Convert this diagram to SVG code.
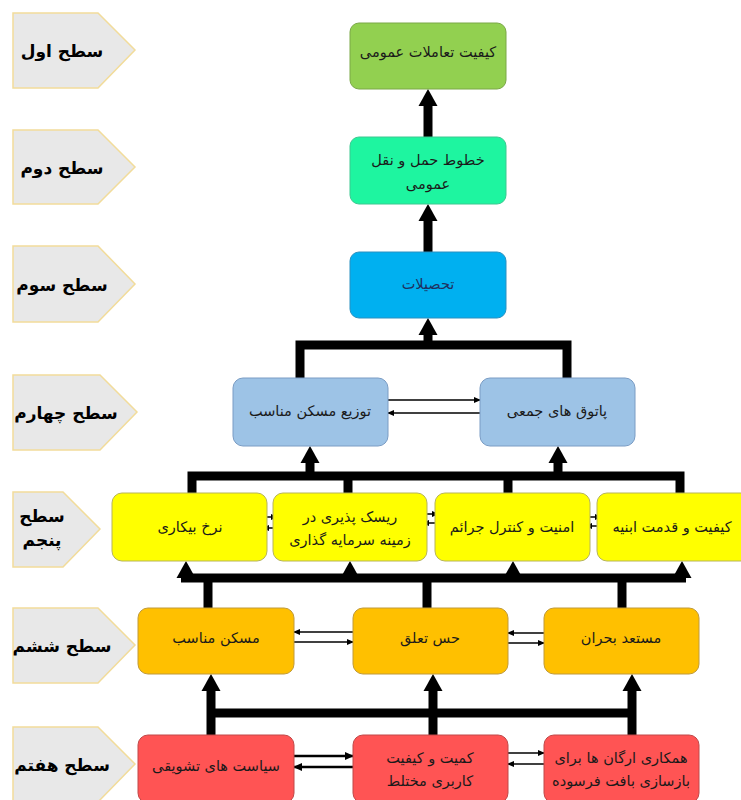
<svg xmlns="http://www.w3.org/2000/svg" xmlns:xlink="http://www.w3.org/1999/xlink" width="741" height="800" viewBox="0 0 741 800">
<style>
.lab{fill:#e8e8e8;stroke:#f2dc9a;stroke-width:1.5}
.labt{font-family:"DejaVu Sans",sans-serif;font-weight:bold;font-size:17px;fill:#000;text-anchor:middle}
.nt{font-family:"DejaVu Sans",sans-serif;font-size:14.5px;fill:#1a1a1a;text-anchor:middle}
.g1{fill:#92d050;stroke:#7aa846}
.g2{fill:#1ef5a0;stroke:#3cc890}
.g3{fill:#00b0f0;stroke:#2a90c0}
.g4{fill:#9dc3e6;stroke:#7a9cc4}
.g5{fill:#ffff00;stroke:#b7b45a}
.g6{fill:#ffc000;stroke:#c09a3a}
.g7{fill:#ff5454;stroke:#c04848}
.thick{stroke:#000;stroke-width:9;fill:none}
.thin{stroke:#000;stroke-width:1.5;fill:none}
.mid{stroke:#000;stroke-width:2.5;fill:none}
</style>
<defs>
<path id="ah" d="M0,0 L9.5,17 L-9.5,17 Z" fill="#000"/>
<marker id="sa" markerUnits="userSpaceOnUse" markerWidth="8" markerHeight="8" refX="6" refY="3" orient="auto"><path d="M0,0 L7,3 L0,6 Z" fill="#000"/></marker>
<marker id="ma" markerUnits="userSpaceOnUse" markerWidth="10" markerHeight="10" refX="8" refY="4" orient="auto"><path d="M0,0 L9,4 L0,8 Z" fill="#000"/></marker>
</defs>

<g id="levels">
<g id="lv1"><polygon class="lab" points="13,13 98,13 135,50 98,88 13,88"/><text class="labt" x="62" y="57">سطح اول</text></g>
<g id="lv2"><polygon class="lab" points="13,130 98,130 135,167 98,204 13,204"/><text class="labt" x="62" y="174">سطح دوم</text></g>
<g id="lv3"><polygon class="lab" points="13,246 98,246 135,284 98,322 13,322"/><text class="labt" x="62" y="291">سطح سوم</text></g>
<g id="lv4"><polygon class="lab" points="13,375 100,375 137,412 100,450 13,450"/><text class="labt" x="66" y="419">سطح چهارم</text></g>
<g id="lv5"><polygon class="lab" points="13,492 63,492 100,529 63,567 13,567"/><text class="labt" x="42" y="522">سطح</text><text class="labt" x="42" y="546">پنجم</text></g>
<g id="lv6"><polygon class="lab" points="13,608 98,608 135,645 98,683 13,683"/><text class="labt" x="62" y="652">سطح ششم</text></g>
<g id="lv7"><polygon class="lab" points="13,727 98,727 135,764 98,802 13,802"/><text class="labt" x="62" y="771">سطح هفتم</text></g>
</g>

<g id="connectors">
<line class="thick" x1="428" y1="137" x2="428" y2="105"/><use xlink:href="#ah" x="428" y="89"/>
<line class="thick" x1="428" y1="252" x2="428" y2="220"/><use xlink:href="#ah" x="428" y="204"/>
<path class="thick" d="M300,378 V345 H567 V378"/>
<line class="thick" x1="428" y1="345" x2="428" y2="334"/><use xlink:href="#ah" x="428" y="318"/>
<path class="thick" d="M192,493 V476 H680 V493"/>
<line class="thick" x1="348" y1="476" x2="348" y2="493"/>
<line class="thick" x1="508" y1="476" x2="508" y2="493"/>
<line class="thick" x1="310" y1="476" x2="310" y2="462"/><use xlink:href="#ah" x="310" y="446"/>
<line class="thick" x1="558" y1="476" x2="558" y2="462"/><use xlink:href="#ah" x="558" y="446"/>
<line class="thick" x1="181" y1="578" x2="686" y2="578"/>
<use xlink:href="#ah" x="186" y="561"/>
<use xlink:href="#ah" x="350" y="561"/>
<use xlink:href="#ah" x="513" y="561"/>
<use xlink:href="#ah" x="682" y="561"/>
<line class="thick" x1="208" y1="578" x2="208" y2="608"/>
<line class="thick" x1="427" y1="578" x2="427" y2="608"/>
<line class="thick" x1="622" y1="578" x2="622" y2="608"/>
<line class="thick" x1="207" y1="713" x2="636" y2="713"/>
<line class="thick" x1="211" y1="735" x2="211" y2="690"/><use xlink:href="#ah" x="211" y="674"/>
<line class="thick" x1="433" y1="735" x2="433" y2="690"/><use xlink:href="#ah" x="433" y="674"/>
<line class="thick" x1="632" y1="735" x2="632" y2="690"/><use xlink:href="#ah" x="632" y="674"/>
<line class="thin" x1="388" y1="400" x2="480" y2="400" marker-end="url(#sa)"/>
<line class="thin" x1="480" y1="413" x2="388" y2="413" marker-end="url(#sa)"/>
<line class="thin" x1="263" y1="517" x2="277" y2="517" marker-end="url(#sa)"/>
<line class="thin" x1="277" y1="528" x2="263" y2="528" marker-end="url(#sa)"/>
<line class="thin" x1="423" y1="514" x2="438" y2="514" marker-end="url(#sa)"/>
<line class="thin" x1="438" y1="523" x2="423" y2="523" marker-end="url(#sa)"/>
<line class="thin" x1="586" y1="517" x2="601" y2="517" marker-end="url(#sa)"/>
<line class="thin" x1="601" y1="526" x2="586" y2="526" marker-end="url(#sa)"/>
<line class="thin" x1="353" y1="632" x2="294" y2="632" marker-end="url(#sa)"/>
<line class="thin" x1="294" y1="642" x2="353" y2="642" marker-end="url(#sa)"/>
<line class="thin" x1="544" y1="633" x2="508" y2="633" marker-end="url(#sa)"/>
<line class="thin" x1="508" y1="643" x2="544" y2="643" marker-end="url(#sa)"/>
<line class="mid" x1="294" y1="756" x2="353" y2="756" marker-end="url(#ma)"/>
<line class="mid" x1="353" y1="767" x2="294" y2="767" marker-end="url(#ma)"/>
<line class="thin" x1="508" y1="753" x2="544" y2="753" marker-end="url(#sa)"/>
<line class="thin" x1="544" y1="764" x2="508" y2="764" marker-end="url(#sa)"/>
</g>

<g id="n1"><rect class="g1" x="350" y="23" width="156" height="66" rx="9"/><text class="nt" x="428" y="57">کیفیت تعاملات عمومی</text></g>
<g id="n2"><rect class="g2" x="350" y="137" width="156" height="67" rx="9"/><text class="nt" x="428" y="165">خطوط حمل و نقل</text><text class="nt" x="428" y="189">عمومی</text></g>
<g id="n3"><rect class="g3" x="350" y="252" width="156" height="66" rx="9"/><text class="nt" x="428" y="289" style="fill:#1f3060">تحصیلات</text></g>

<g id="n4a"><rect class="g4" x="233" y="378" width="155" height="68" rx="10"/><text class="nt" x="310" y="416">توزیع مسکن مناسب</text></g>
<g id="n4b"><rect class="g4" x="480" y="378" width="155" height="68" rx="10"/><text class="nt" x="557" y="416">پاتوق های جمعی</text></g>

<g id="n5a"><rect class="g5" x="112" y="493" width="155" height="68" rx="10"/><text class="nt" x="190" y="532">نرخ بیکاری</text></g>
<g id="n5b"><rect class="g5" x="273" y="493" width="154" height="68" rx="10"/><text class="nt" x="350" y="522">ریسک پذیری در</text><text class="nt" x="350" y="545">زمینه  سرمایه گذاری</text></g>
<g id="n5c"><rect class="g5" x="435" y="493" width="155" height="68" rx="10"/><text class="nt" x="512" y="532">امنیت و کنترل جرائم</text></g>
<g id="n5d"><rect class="g5" x="597" y="493" width="156" height="68" rx="10"/><text class="nt" x="672" y="532">کیفیت و قدمت ابنیه</text></g>

<g id="n6a"><rect class="g6" x="138" y="608" width="156" height="66" rx="10"/><text class="nt" x="216" y="643">مسکن مناسب</text></g>
<g id="n6b"><rect class="g6" x="353" y="608" width="155" height="66" rx="10"/><text class="nt" x="430" y="643">حس تعلق</text></g>
<g id="n6c"><rect class="g6" x="544" y="608" width="155" height="66" rx="10"/><text class="nt" x="621" y="643">مستعد بحران</text></g>

<g id="n7a"><rect class="g7" x="138" y="735" width="156" height="68" rx="10"/><text class="nt" x="216" y="771">سیاست های تشویقی</text></g>
<g id="n7b"><rect class="g7" x="353" y="735" width="155" height="68" rx="10"/><text class="nt" x="430" y="763">کمیت و کیفیت</text><text class="nt" x="430" y="786">کاربری مختلط</text></g>
<g id="n7c"><rect class="g7" x="544" y="735" width="155" height="68" rx="10"/><text class="nt" x="621" y="763">همکاری ارگان ها برای</text><text class="nt" x="621" y="786">بازسازی بافت فرسوده</text></g>
</svg>
